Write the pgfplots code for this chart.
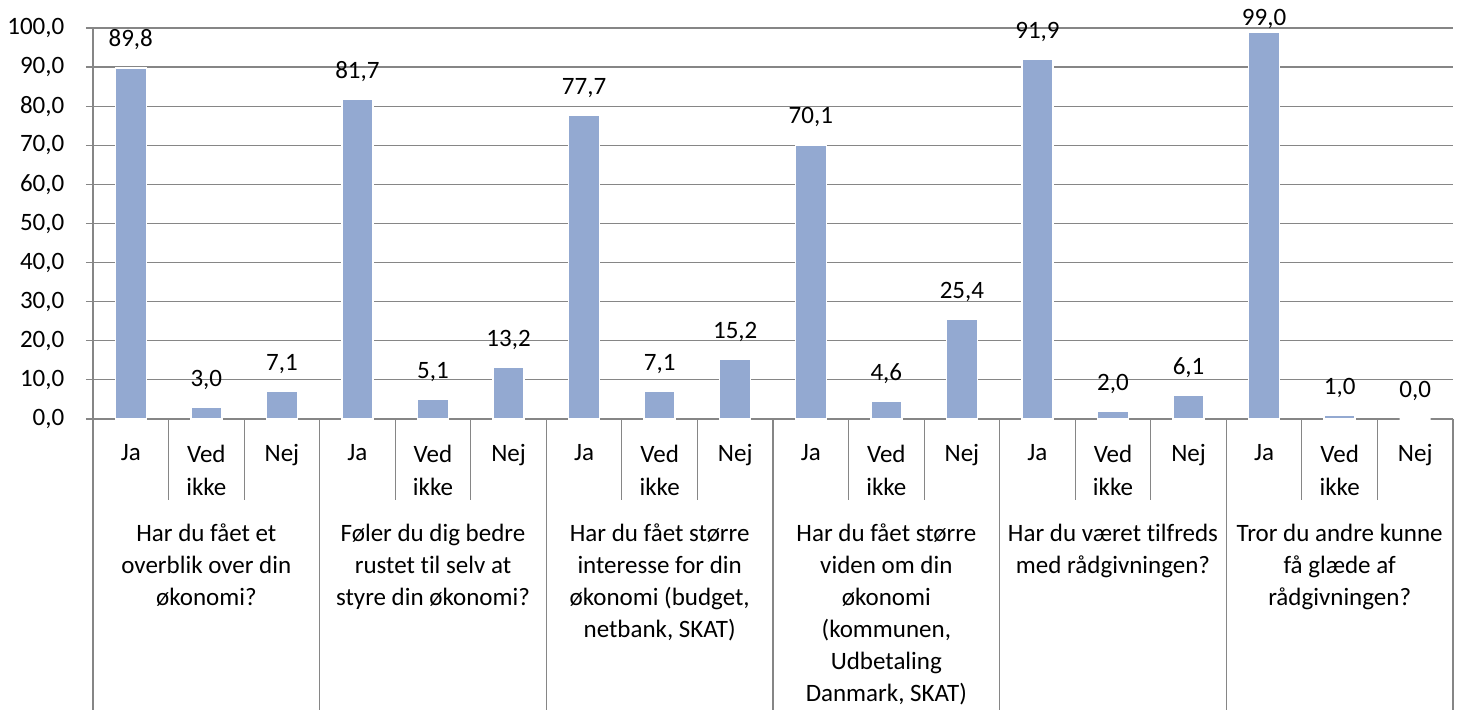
\documentclass[border=0pt]{standalone}
\usepackage{pgfplots}
\pgfplotsset{compat=1.18}
\usepackage{fontspec}
\setmainfont{Carlito}[Ligatures=NoCommon]
\definecolor{barc}{HTML}{93A9D1}
\definecolor{gridc}{HTML}{868686}
\begin{document}
\fontsize{12.5pt}{16.5pt}\selectfont
\begin{tikzpicture}[grp/.style={anchor=north, align=center, yshift=-48pt, font=\fontsize{12.5pt}{16pt}\selectfont}]
\useasboundingbox (-46.5pt,-145.5pt) rectangle (687pt,209.5pt);
\begin{axis}[
  at={(0,0)}, anchor=south west,
  width=680pt, height=195.5pt, scale only axis, clip=false,
  xmin=-0.5, xmax=17.5, ymin=0, ymax=100,
  axis x line=bottom, axis y line=left,
  axis line style={draw=gridc, line width=0.6pt, -},
  ytick={0,10,...,100},
  ymajorgrids, grid style={gridc, line width=0.6pt},
  tick align=outside, major tick length=3.5pt,
  y tick style={gridc, line width=0.6pt},
  x tick style={draw=none},
  xtick={0,...,17},
  xticklabels={Ja,{Ved\\ikke},Nej,Ja,{Ved\\ikke},Nej,Ja,{Ved\\ikke},Nej,Ja,{Ved\\ikke},Nej,Ja,{Ved\\ikke},Nej,Ja,{Ved\\ikke},Nej},
  x tick label style={align=center, anchor=north, yshift=-5pt, font=\fontsize{12.5pt}{16.5pt}\selectfont},
  y tick label style={xshift=-6.5pt, font=\fontsize{12.5pt}{16.5pt}\selectfont},
  /pgf/number format/.cd, fixed, fixed zerofill, precision=1, use comma, assume math mode=true,
  /pgfplots/.cd,
  visualization depends on={y \as \rawy},
  nodes near coords={\pgfmathprintnumber[fixed,fixed zerofill,precision=1,use comma,assume math mode=true]{\pgfplotspointmeta}},
  every node near coord/.append style={anchor=base, inner sep=0pt, yshift={ifthenelse(\rawy>95,3pt,10.5pt)}, font=\fontsize{12.5pt}{16.5pt}\selectfont, text=black},
]
\addplot[ybar, bar width=0.41, fill=barc, draw=white, line width=0.75pt] coordinates {
(0,89.8) (1,3.0) (2,7.1)
(3,81.7) (4,5.1) (5,13.2)
(6,77.7) (7,7.1) (8,15.2)
(9,70.1) (10,4.6) (11,25.4)
(12,91.9) (13,2.0) (14,6.1)
(15,99.0) (16,1.0) (17,0.0)
};
\pgfplotsinvokeforeach{0.5,1.5,3.5,4.5,6.5,7.5,9.5,10.5,12.5,13.5,15.5,16.5}{
  \draw[gridc, line width=0.6pt] (axis cs:#1,0) -- ([yshift=-40.5pt]axis cs:#1,0);
}
\pgfplotsinvokeforeach{-0.5,2.5,5.5,8.5,11.5,14.5,17.5}{
  \draw[gridc, line width=0.6pt] (axis cs:#1,0) -- ([yshift=-145.5pt]axis cs:#1,0);
}
\path (axis cs:1,0) node[grp] {Har du fået et\\overblik over din\\økonomi?};
\path (axis cs:4,0) node[grp] {Føler du dig bedre\\rustet til selv at\\styre din økonomi?};
\path (axis cs:7,0) node[grp] {Har du fået større\\interesse for din\\økonomi (budget,\\netbank, SKAT)};
\path (axis cs:10,0) node[grp] {Har du fået større\\viden om din\\økonomi\\(kommunen,\\Udbetaling\\Danmark, SKAT)};
\path (axis cs:13,0) node[grp] {Har du været tilfreds\\med rådgivningen?};
\path (axis cs:16,0) node[grp] {Tror du andre kunne\\få glæde af\\rådgivningen?};
\end{axis}
\end{tikzpicture}
\end{document}
